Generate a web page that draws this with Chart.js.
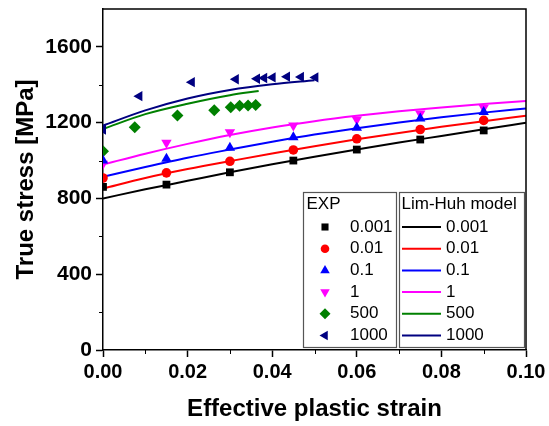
<!DOCTYPE html>
<html>
<head>
<meta charset="utf-8">
<script src="https://cdn.jsdelivr.net/npm/chart.js@4.4.0/dist/chart.umd.min.js"></script>
<style>
  html, body { margin: 0; padding: 0; background: #fff; }
  #wrap { width: 549px; height: 426px; }
</style>
</head>
<body>
<div id="wrap"><canvas id="flowChart"></canvas></div>
<script>
// strain rates (1/s)
const rateLabels = ['0.001', '0.01', '0.1', '1', '500', '1000'];

// experimental points
const expStrainLow = [0, 0.015, 0.03, 0.045, 0.06, 0.075, 0.09];
const exp0001 = [861, 873, 938, 1000, 1058, 1111, 1159];
const exp001 = [908, 935, 996, 1056, 1115, 1164, 1212];
const exp01 = [1000, 1010, 1067, 1123, 1173, 1222, 1256];
const exp1 = [983, 1094, 1150, 1185, 1217, 1249, 1279];
const expStrain500 = [0, 0.0075, 0.0176, 0.0263, 0.0302, 0.0323, 0.0343, 0.0361];
const exp500 = [1049, 1176, 1238, 1266, 1282, 1289, 1291, 1293];
const expStrain1000 = [0, 0.0086, 0.021, 0.0314, 0.0364, 0.0381, 0.0401, 0.0435, 0.0468, 0.0502];
const exp1000 = [1164, 1340, 1414, 1429, 1432, 1436, 1439, 1443, 1441, 1439];

// Lim-Huh model curves
const modelStrain = [0, 0.01, 0.02, 0.03, 0.04, 0.05, 0.06, 0.07, 0.08, 0.09, 0.1];
const model0001 = [800, 848, 893, 938, 980, 1020, 1058, 1095, 1130, 1165, 1199];
const model001 = [852, 908, 955, 997, 1037, 1076, 1112, 1146, 1178, 1208, 1236];
const model01 = [914, 966, 1015, 1058, 1099, 1137, 1170, 1201, 1229, 1253, 1275];
const model1 = [979, 1036, 1088, 1135, 1175, 1208, 1236, 1260, 1280, 1298, 1314];
const modelStrain500 = [0, 0.01, 0.02, 0.03, 0.0368];
const model500 = [1167, 1245, 1300, 1345, 1367];
const modelStrain1000 = [0, 0.01, 0.02, 0.03, 0.04, 0.05];
const model1000 = [1185, 1265, 1328, 1373, 1403, 1424];

const colors = ['#000000', '#ff0000', '#0000ff', '#ff00ff', '#008000', '#000080'];
const markers = [
  { style: 'rect', rotation: 0, radius: 5.5 },
  { style: 'circle', rotation: 0, radius: 4.8 },
  { style: 'triangle', rotation: 0, radius: 6 },
  { style: 'triangle', rotation: 180, radius: 6 },
  { style: 'rectRot', rotation: 0, radius: 6 },
  { style: 'triangle', rotation: -90, radius: 6 }
];

const FONT = '"Liberation Sans", Arial, sans-serif';

function toPoints(xs, ys) {
  return xs.map((x, i) => ({ x: x, y: ys[i] }));
}

const expSets = [
  toPoints(expStrainLow, exp0001),
  toPoints(expStrainLow, exp001),
  toPoints(expStrainLow, exp01),
  toPoints(expStrainLow, exp1),
  toPoints(expStrain500, exp500),
  toPoints(expStrain1000, exp1000)
];
const modelSets = [
  toPoints(modelStrain, model0001),
  toPoints(modelStrain, model001),
  toPoints(modelStrain, model01),
  toPoints(modelStrain, model1),
  toPoints(modelStrain500, model500),
  toPoints(modelStrain1000, model1000)
];

const datasets = [];
expSets.forEach((pts, i) => {
  datasets.push({
    label: 'EXP ' + rateLabels[i],
    data: pts,
    showLine: false,
    pointStyle: markers[i].style,
    rotation: markers[i].rotation,
    pointRadius: markers[i].radius,
    pointBorderWidth: 0,
    backgroundColor: colors[i],
    borderColor: colors[i],
    order: 0
  });
});
modelSets.forEach((pts, i) => {
  datasets.push({
    label: 'Lim-Huh ' + rateLabels[i],
    data: pts,
    showLine: true,
    pointRadius: 0,
    borderWidth: 2,
    borderColor: colors[i],
    backgroundColor: colors[i],
    cubicInterpolationMode: 'monotone',
    order: 1
  });
});

// minor ticks + top/right frame
const framePlugin = {
  id: 'frame',
  afterDraw(chart) {
    const { ctx, chartArea: a, scales } = chart;
    ctx.save();
    ctx.strokeStyle = '#000';
    ctx.lineWidth = 1.5;
    ctx.beginPath();
    ctx.moveTo(a.left, a.top);
    ctx.lineTo(a.right, a.top);
    ctx.lineTo(a.right, a.bottom);
    ctx.stroke();
    ctx.lineWidth = 1;
    ctx.beginPath();
    [0.01, 0.03, 0.05, 0.07, 0.09].forEach(v => {
      const px = Math.round(scales.x.getPixelForValue(v)) + 0.5;
      ctx.moveTo(px, a.bottom);
      ctx.lineTo(px, a.bottom + 4);
    });
    [200, 600, 1000, 1400].forEach(v => {
      const py = Math.round(scales.y.getPixelForValue(v)) + 0.5;
      ctx.moveTo(a.left, py);
      ctx.lineTo(a.left - 4, py);
    });
    ctx.stroke();
    ctx.restore();
  }
};

// two-box legend: EXP markers | Lim-Huh model lines
const legendPlugin = {
  id: 'twoBoxLegend',
  afterDraw(chart) {
    const ctx = chart.ctx;
    const top = 192, h = 155;
    const expBox = { x: 303.5, w: 93 };
    const modBox = { x: 399.5, w: 125 };
    ctx.save();
    ctx.strokeStyle = '#555';
    ctx.lineWidth = 1.2;
    ctx.strokeRect(expBox.x, top + 0.5, expBox.w, h);
    ctx.strokeRect(modBox.x, top + 0.5, modBox.w, h);
    ctx.font = '17px ' + FONT;
    ctx.fillStyle = '#000';
    ctx.textBaseline = 'middle';
    ctx.textAlign = 'left';
    ctx.fillText('EXP', expBox.x + 3, top + 12);
    ctx.fillText('Lim-Huh model', modBox.x + 2, top + 12);
    const y0 = top + 35, dy = 21.7;
    rateLabels.forEach((lab, i) => {
      const y = y0 + i * dy;
      ctx.fillStyle = colors[i];
      Chart.helpers.drawPoint(ctx, {
        pointStyle: markers[i].style,
        rotation: markers[i].rotation,
        radius: markers[i].radius - 0.5,
        borderWidth: 0
      }, 325, y);
      ctx.strokeStyle = colors[i];
      ctx.lineWidth = 2;
      ctx.beginPath();
      ctx.moveTo(402, y);
      ctx.lineTo(441, y);
      ctx.stroke();
      ctx.fillStyle = '#000';
      ctx.fillText(lab, 350, y);
      ctx.fillText(lab, 446, y);
    });
    ctx.restore();
  }
};

function noEdgePadding(s) {
  s.paddingTop = 0;
  s.paddingBottom = 0;
  s.paddingLeft = 0;
  s.paddingRight = 0;
}

window.onload = function () {
  const ctx = document.getElementById('flowChart').getContext('2d');
  new Chart(ctx, {
    type: 'scatter',
    data: { datasets: datasets },
    plugins: [framePlugin, legendPlugin],
    options: {
      responsive: true,
      maintainAspectRatio: false,
      animation: false,
      layout: { padding: { top: 9, right: 23, left: 0, bottom: 0 } },
      plugins: {
        legend: { display: false },
        tooltip: { enabled: false }
      },
      scales: {
        x: {
          type: 'linear',
          min: 0,
          max: 0.1,
          afterFit: s => { s.height = 76; noEdgePadding(s); },
          ticks: {
            stepSize: 0.02,
            color: '#000',
            padding: 3,
            font: { family: FONT, size: 20, weight: 'bold' },
            callback: v => v.toFixed(2)
          },
          grid: { drawOnChartArea: false, color: '#000', tickLength: 7, tickWidth: 1.5 },
          border: { color: '#000', width: 1.5 },
          title: {
            display: true,
            text: 'Effective plastic strain',
            color: '#000',
            font: { family: FONT, size: 24, weight: 'bold' },
            padding: { top: 0, bottom: 2 }
          }
        },
        y: {
          type: 'linear',
          min: 0,
          max: 1800,
          afterFit: s => { s.width = 103; noEdgePadding(s); },
          afterBuildTicks: s => { s.ticks = s.ticks.filter(t => t.value % 400 === 0); },
          ticks: {
            stepSize: 400,
            color: '#000',
            padding: 4,
            font: { family: FONT, size: 21, weight: 'bold' },
            callback: v => String(v)
          },
          grid: { drawOnChartArea: false, color: '#000', tickLength: 7, tickWidth: 1.5 },
          border: { color: '#000', width: 1.5 },
          title: {
            display: true,
            text: 'True stress [MPa]',
            color: '#000',
            font: { family: FONT, size: 24, weight: 'bold' },
            padding: { top: 12, bottom: 0 }
          }
        }
      }
    }
  });
};
</script>
</body>
</html>
